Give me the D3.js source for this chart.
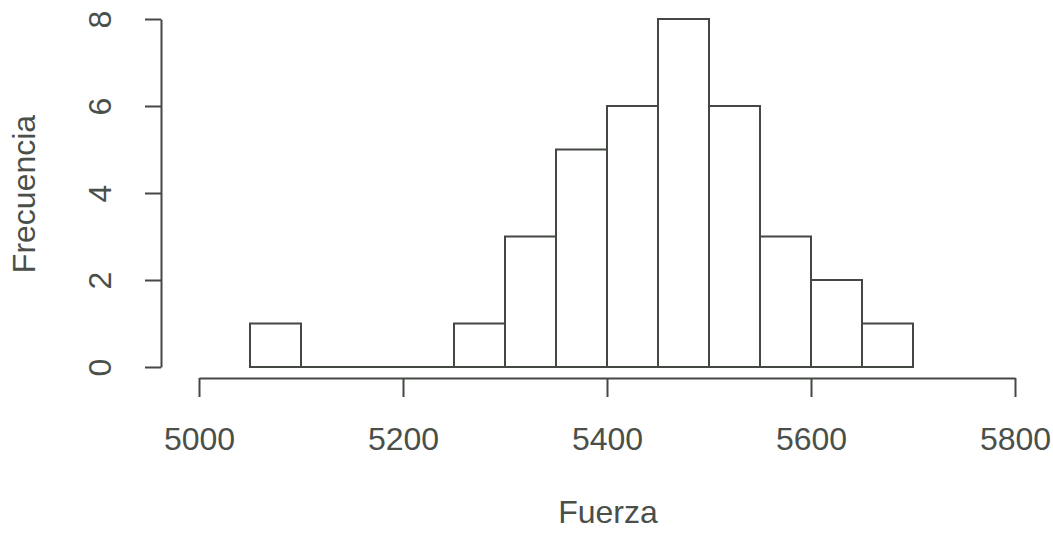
<!DOCTYPE html>
<html>
<head>
<meta charset="utf-8" />
<title>Histograma Fuerza</title>
<script src="https://d3js.org/d3.v7.min.js"></script>
<style>
  body { margin: 0; background: #fff; }
  text { font-family: "Liberation Sans", Arial, sans-serif; fill: #4a4f4a; }
</style>
</head>
<body>
<svg></svg>
<script>
// bins of 50 from 5050 to 5700, counts
const breaks = [5050, 5100, 5150, 5200, 5250, 5300, 5350, 5400, 5450, 5500, 5550, 5600, 5650, 5700];
const counts = [1, 0, 0, 0, 1, 3, 5, 6, 8, 6, 3, 2, 1];
const xTicks = [5000, 5200, 5400, 5600, 5800];
const yTicks = [0, 2, 4, 6, 8];

const W = 1053, H = 537;
const ink = '#434843';
const fs = 32;

const svg = d3.select('svg')
  .attr('width', W)
  .attr('height', H);

const x = d3.scaleLinear().domain([5000, 5800]).range([199, 1015]);
const y = d3.scaleLinear().domain([0, 8]).range([367, 19]);

// bars (drawn as paths so empty bins still show as a line on the base)
const bins = counts.map((c, i) => ({ x0: breaks[i], x1: breaks[i + 1], n: c }));
svg.append('g')
  .selectAll('path')
  .data(bins)
  .enter()
  .append('path')
  .attr('d', d => `M${x(d.x0)},${y(0)}H${x(d.x1)}V${y(d.n)}H${x(d.x0)}Z`)
  .attr('fill', 'none')
  .attr('stroke', ink)
  .attr('stroke-width', 2);

// x axis, R style: offset below the bars
const xAxis = svg.append('g')
  .attr('transform', 'translate(0,378)')
  .call(d3.axisBottom(x).tickValues(xTicks).tickFormat(d3.format('d'))
    .tickSize(19).tickSizeOuter(0));
xAxis.selectAll('path, line').attr('stroke', ink).attr('stroke-width', 2);
xAxis.selectAll('text')
  .attr('font-size', fs)
  .attr('font-family', '"Liberation Sans", Arial, sans-serif')
  .attr('fill', '#4a4f4a')
  .attr('dy', null)
  .attr('y', 72);

// y axis with rotated labels
const yAxis = svg.append('g')
  .attr('transform', 'translate(161,0)')
  .call(d3.axisLeft(y).tickValues(yTicks).tickFormat(d3.format('d'))
    .tickSize(16).tickSizeOuter(0));
yAxis.selectAll('path, line').attr('stroke', ink).attr('stroke-width', 2);
yAxis.selectAll('text')
  .attr('font-size', fs)
  .attr('font-family', '"Liberation Sans", Arial, sans-serif')
  .attr('fill', '#4a4f4a')
  .attr('x', null)
  .attr('dy', null)
  .attr('text-anchor', 'middle')
  .attr('transform', 'translate(-50,0) rotate(-90)');

// axis titles
svg.append('text')
  .attr('x', 608)
  .attr('y', 523)
  .attr('text-anchor', 'middle')
  .attr('font-size', fs)
  .text('Fuerza');

svg.append('text')
  .attr('transform', 'translate(35,194) rotate(-90)')
  .attr('text-anchor', 'middle')
  .attr('font-size', fs)
  .text('Frecuencia');
</script>
</body>
</html>
